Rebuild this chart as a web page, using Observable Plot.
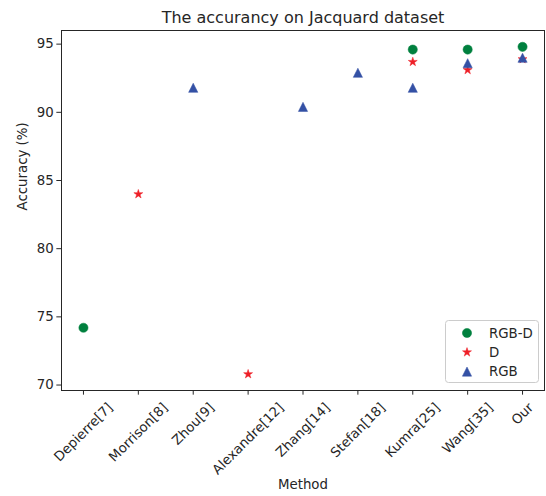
<!DOCTYPE html>
<html>
<head>
<meta charset="utf-8">
<script src="https://cdn.jsdelivr.net/npm/d3@7"></script>
<script src="https://cdn.jsdelivr.net/npm/@observablehq/plot@0.6"></script>
<style>
  html, body { margin: 0; padding: 0; background: white; overflow: hidden; }
  svg { display: block; max-width: none !important; }
</style>
</head>
<body>
<div id="chart"></div>
<script>
const title = "The accurancy on Jacquard dataset";
const xLabel = "Method";
const yLabel = "Accuracy (%)";
const methods = ["Depierre[7]", "Morrison[8]", "Zhou[9]", "Alexandre[12]", "Zhang[14]", "Stefan[18]", "Kumra[25]", "Wang[35]", "Our"];
const yTicks = [70, 75, 80, 85, 90, 95];
const seriesNames = ["RGB-D", "D", "RGB"];
const seriesColors = ["#00803e", "#ee1f27", "#3451a5"];

const rgbdMethods = ["Depierre[7]", "Kumra[25]", "Wang[35]", "Our"];
const rgbdAcc = [74.2, 94.6, 94.6, 94.8];
const dMethods = ["Morrison[8]", "Alexandre[12]", "Kumra[25]", "Wang[35]", "Our"];
const dAcc = [84.0, 70.8, 93.7, 93.1, 93.9];
const rgbMethods = ["Zhou[9]", "Zhang[14]", "Stefan[18]", "Kumra[25]", "Wang[35]", "Our"];
const rgbAcc = [91.8, 90.4, 92.9, 91.8, 93.6, 94.0];

const toRows = (ms, vs) => ms.map((m, i) => ({method: m, acc: vs[i]}));
const rgbdRows = toRows(rgbdMethods, rgbdAcc);
const dRows = toRows(dMethods, dAcc);
const rgbRows = toRows(rgbMethods, rgbAcc);

// matplotlib-like marker shapes
const triSym = {draw(ctx, size) {
  const h = Math.sqrt(size / Math.PI);
  ctx.moveTo(0, -h); ctx.lineTo(h, h); ctx.lineTo(-h, h); ctx.closePath();
}};
const starSym = {draw(ctx, size) {
  const R = Math.sqrt(size / Math.PI), r = R * 0.381966;
  for (let i = 0; i < 10; i++) {
    const a = -Math.PI / 2 + i * Math.PI / 5;
    const rad = i % 2 === 0 ? R : r;
    const x = rad * Math.cos(a), y = rad * Math.sin(a);
    if (i === 0) ctx.moveTo(x, y); else ctx.lineTo(x, y);
  }
  ctx.closePath();
}};
const circSym = {draw(ctx, size) {
  const r = Math.sqrt(size / Math.PI);
  ctx.moveTo(r, 0); ctx.arc(0, 0, r, 0, 2 * Math.PI);
}};
const symbols = [circSym, starSym, triSym];
const symR = [4.6, 4.7, 4.6];

const FS = 13.33;
const FONT = "DejaVu Sans";
const ctx2 = document.createElement("canvas").getContext("2d");
ctx2.font = `${FS}px "${FONT}"`;
const textH = FS * 1.164;
const tickLen = 4.67, tickPad = 4.67;

const labelMarks = methods.map(m => {
  const L = ctx2.measureText(m).width;
  const H = (L + textH) / Math.SQRT2;
  return Plot.text([m], {
    x: d => d, frameAnchor: "bottom", rotate: -45,
    textAnchor: "middle", lineAnchor: "middle",
    dy: tickLen + tickPad + H / 2, fontSize: FS, fill: "#262626"
  });
});

const svg = Plot.plot({
  width: 546, height: 496,
  marginLeft: 61, marginRight: 2, marginTop: 30, marginBottom: 106,
  style: {fontFamily: FONT, fontSize: FS + "px", color: "#262626", background: "white"},
  x: {type: "point", domain: methods, padding: 0.4, round: false},
  y: {domain: [69.6, 96.0]},
  marks: [
    Plot.frame({stroke: "#262626", strokeWidth: 1}),
    Plot.axisY({ticks: yTicks, tickSize: tickLen, tickPadding: 3, fontSize: FS, label: null, stroke: "#262626"}),
    Plot.axisX({tickSize: tickLen, tickFormat: () => "", label: null, stroke: "#262626"}),
    ...labelMarks,
    Plot.text([yLabel], {frameAnchor: "left", rotate: -90, dx: -39, fontSize: FS, fill: "#262626"}),
    Plot.text([xLabel], {frameAnchor: "bottom", dy: 98, fontSize: FS, fill: "#262626"}),
    Plot.text([title], {frameAnchor: "top", dy: -8, lineAnchor: "bottom", fontSize: 16, fill: "#262626"}),
    Plot.dot(rgbdRows, {x: "method", y: "acc", symbol: circSym, r: symR[0], fill: seriesColors[0], stroke: seriesColors[0], strokeWidth: 0.5}),
    Plot.dot(dRows, {x: "method", y: "acc", symbol: starSym, r: symR[1], fill: seriesColors[1], stroke: seriesColors[1], strokeWidth: 0.5}),
    Plot.dot(rgbRows, {x: "method", y: "acc", symbol: triSym, r: symR[2], fill: seriesColors[2], stroke: seriesColors[2], strokeWidth: 0.5})
  ]
});

// legend inside the axes (lower right)
const g = d3.select(svg).append("g").attr("font-family", FONT).attr("font-size", FS).attr("text-anchor", "start");
g.append("rect").attr("x", 445.5).attr("y", 320.5).attr("width", 93).attr("height", 62)
  .attr("rx", 3).attr("fill", "white").attr("fill-opacity", 0.8).attr("stroke", "#cccccc");
seriesNames.forEach((name, i) => {
  const cy = 333 + i * 19.3;
  g.append("path")
    .attr("d", d3.symbol(symbols[i], Math.PI * symR[i] * symR[i])())
    .attr("transform", `translate(467,${cy})`)
    .attr("fill", seriesColors[i]).attr("stroke", seriesColors[i]).attr("stroke-width", 0.5);
  g.append("text").attr("x", 489).attr("y", cy).attr("dy", "0.35em")
    .attr("text-anchor", "start").attr("fill", "#262626").text(name);
});

document.getElementById("chart").appendChild(svg);
</script>
</body>
</html>
